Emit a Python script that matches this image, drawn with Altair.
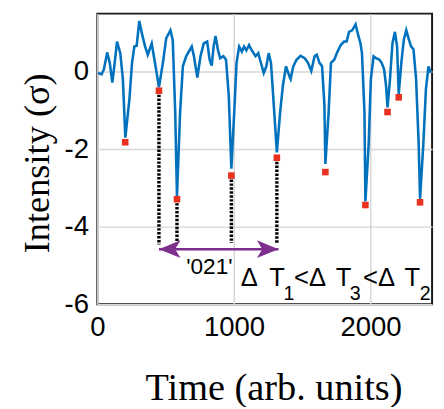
import altair as alt
import pandas as pd

# ---- data ----
time = [5, 31, 48, 72, 91, 110, 127, 144, 168, 187,
        205, 235, 254, 271, 288, 307, 326, 350, 369, 398,
        422, 451, 480, 504, 535, 552, 570, 583, 606, 626,
        650, 691, 707, 732, 755, 779, 804, 822, 837, 851,
        865, 883, 899, 923, 942, 962, 981, 1002, 1019, 1038,
        1058, 1074, 1091, 1110, 1129, 1158, 1178, 1194, 1218, 1237,
        1254, 1271, 1290, 1314, 1338, 1358, 1381, 1405, 1415, 1434,
        1458, 1487, 1518, 1542, 1566, 1590, 1606, 1626, 1645, 1662,
        1669, 1693, 1710, 1734, 1758, 1782, 1806, 1825, 1842, 1865,
        1890, 1906, 1926, 1937, 1955, 1962, 1986, 2002, 2022, 2041,
        2065, 2081, 2099, 2113, 2124, 2142, 2160, 2178, 2194, 2206,
        2225, 2243, 2261, 2281, 2297, 2314, 2333, 2352, 2362, 2386,
        2405, 2424, 2441]
intensity = [-0.03, -0.07, 0.06, 0.50, 0.23, -0.28, 0.23, 0.78, 0.48, -0.19,
             -1.70, -0.70, 0.23, 0.65, 0.67, 1.31, 0.99, 0.65, 0.44, 0.73,
             0.23, -0.40, 0.23, 0.86, 1.07, 0.82, -1.04, -3.22, -1.04, 0.14,
             0.40, 0.65, 0.40, -0.15, 0.40, 0.73, 0.78, 0.31, 0.16, 0.65,
             0.92, 0.56, 0.35, 0.40, 0.31, -0.62, -2.50, -1.04, 0.23, 0.65,
             0.52, 0.65, 0.55, 0.69, 0.56, 0.40, 0.48, 0.27, -0.03, 0.14,
             0.48, 0.23, -0.78, -2.08, -1.04, -0.36, 0.14, -0.11, -0.19, 0.14,
             0.31, 0.41, 0.35, 0.23, 0.02, 0.40, 0.44, 0.23, 0.14, -0.86,
             -2.38, -1.04, 0.23, 0.31, 0.52, 0.69, 0.78, 0.78, 1.03, 1.07,
             1.22, 0.99, 0.73, 0.48, -1.04, -3.35, -1.87, -0.19, 0.40, 0.35,
             0.31, 0.23, 0.06, -0.36, -0.92, -0.19, 0.73, 1.03, 0.65, -0.58,
             0.23, 0.82, 1.07, 0.82, 0.65, 0.58, -0.19, -1.87, -3.28, -1.87,
             -0.45, 0.14, -0.03]
assert len(time) == len(intensity)

peak_t = [204, 451, 583, 981, 1314, 1669, 1962, 2124, 2206, 2362]
peak_v = [-1.82, -0.49, -3.29, -2.68, -2.22, -2.59, -3.44, -1.04, -0.66, -3.37]

drop_t = [451, 583, 981, 1314]
drop_top = [-0.49, -3.29, -2.68, -2.22]
drop_bottom = [-4.46, -4.40, -4.42, -4.42]

arrow_start = [451]
arrow_end = [1326]
arrow_level = [-4.58]

pattern_label = ["'021'"]
pattern_t = [820]
pattern_v = [-5.22]

order_text = ["Δ", "T", "<Δ", "T", "<Δ", "T"]
order_t = [1050, 1259, 1440, 1745, 1945, 2248]
order_v = [-5.54] * 6
sub_text = ["1", "3", "2"]
sub_t = [1362, 1848, 2360]
sub_v = [-5.90, -5.90, -5.90]

x_ticks = [0, 1000, 2000]
y_ticks = [-6, -4, -2, 0]

# ---- tables ----
series = pd.DataFrame({"t": time, "v": intensity})
peaks = pd.DataFrame({"t": peak_t, "v": peak_v})
drops = pd.DataFrame({"t": drop_t, "v": drop_top, "v2": drop_bottom})
arrow = pd.DataFrame({"t": arrow_start, "t2": arrow_end, "v": arrow_level})
arrow_left = pd.DataFrame({"t": arrow_start, "v": arrow_level})
arrow_right = pd.DataFrame({"t": arrow_end, "v": arrow_level})
pat = pd.DataFrame({"t": pattern_t, "v": pattern_v, "s": pattern_label})
order_df = pd.DataFrame({"t": order_t, "v": order_v, "s": order_text})
sub_df = pd.DataFrame({"t": sub_t, "v": sub_v, "s": sub_text})

BLUE = "#0072BD"
RED = "#E8321F"
PURPLE = "#7E2F8E"

xaxis = alt.Axis(values=x_ticks, labelExpr="'' + datum.value", ticks=False, domain=False,
                 grid=True, gridColor="#d6d6d6", gridWidth=1.5,
                 labelFont="Liberation Sans", labelFontSize=28, labelColor="#000",
                 labelPadding=10, labelFlush=False, labelOverlap=False,
                 titleFont="Liberation Serif", titleFontSize=39, titleFontWeight="normal",
                 titleColor="#000", titleX=179.5, titleY=97, titleBaseline="alphabetic",
                 titleAlign="center")
yaxis = alt.Axis(values=y_ticks, labelExpr="'' + datum.value", ticks=False, domain=False,
                 grid=True, gridColor="#d6d6d6", gridWidth=1.5,
                 labelFont="Liberation Sans", labelFontSize=28, labelColor="#000",
                 labelPadding=9, labelFlush=False, labelOverlap=False,
                 titleFont="Liberation Serif", titleFontSize=37, titleFontWeight="normal",
                 titleColor="#000", titleX=-50, titleY=152, titleAngle=270,
                 titleBaseline="alphabetic", titleAlign="center")

X = alt.X("t:Q", scale=alt.Scale(domain=[0, 2450], nice=False, zero=False),
          axis=xaxis, title="Time (arb. units)")
Y = alt.Y("v:Q", scale=alt.Scale(domain=[-6, 1.5], nice=False, zero=False),
          axis=yaxis, title="Intensity (σ)")

line = alt.Chart(series).mark_line(color=BLUE, strokeWidth=2.6).encode(x=X, y=Y)

drop_rules = alt.Chart(drops).mark_rule(color="#000", strokeWidth=3.5, strokeDash=[2.5, 1.5]).encode(
    x=X, y=Y, y2="v2:Q")

markers = alt.Chart(peaks).mark_square(color=RED, size=45, opacity=1).encode(x=X, y=Y)

shaft = alt.Chart(arrow).mark_rule(color=PURPLE, strokeWidth=2.5).encode(x=X, x2="t2:Q", y=Y)
head_l = alt.Chart(arrow_left).mark_point(
    shape="M 0 0 L 2 -0.82 L 1.5 0 L 2 0.82 Z", size=484, filled=True, color=PURPLE, opacity=1
).encode(x=X, y=Y)
head_r = alt.Chart(arrow_right).mark_point(
    shape="M 0 0 L -2 -0.82 L -1.5 0 L -2 0.82 Z", size=484, filled=True, color=PURPLE, opacity=1
).encode(x=X, y=Y)

pat_text = alt.Chart(pat).mark_text(font="Liberation Sans", fontSize=23, color="#000",
                                    align="center", baseline="alphabetic").encode(x=X, y=Y, text="s:N")
order_mark = alt.Chart(order_df).mark_text(font="Liberation Sans", fontSize=26, color="#000",
                                           align="left", baseline="alphabetic").encode(x=X, y=Y, text="s:N")
sub_mark = alt.Chart(sub_df).mark_text(font="Liberation Sans", fontSize=20, color="#000",
                                       align="left", baseline="alphabetic").encode(x=X, y=Y, text="s:N")

chart = alt.layer(line, drop_rules, markers, shaft, head_l, head_r, pat_text, order_mark, sub_mark).properties(
    width=341, height=296,
    autosize=alt.AutoSizeParams(type="none"),
    padding={"left": 91, "top": 2, "right": 4, "bottom": 101},
    background="white",
).configure_view(stroke="#1a1a1a", strokeWidth=2)

chart.save("out.html", embed_options={"renderer": "svg", "actions": False})
